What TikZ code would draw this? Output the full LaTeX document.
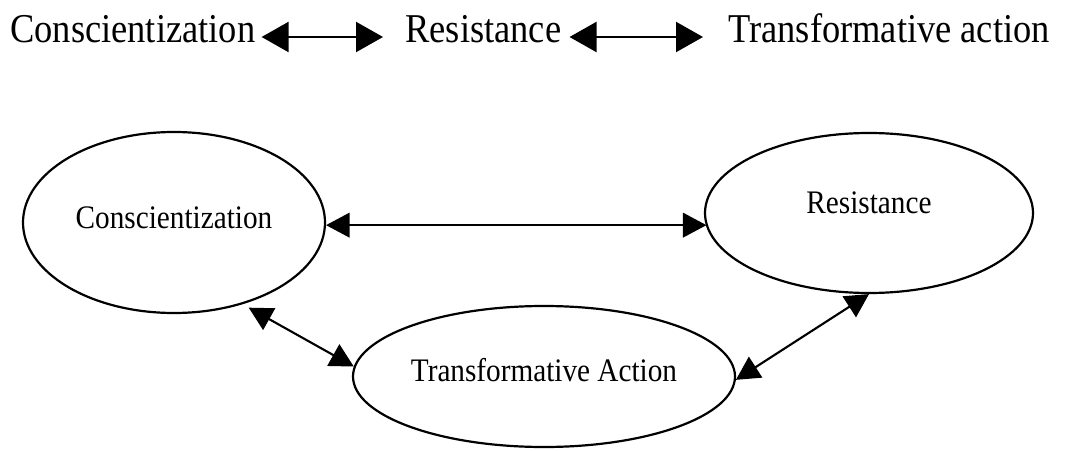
\documentclass[tikz,border=0pt]{standalone}
\usepackage{fontspec}
\setmainfont[FakeStretch=0.89]{Liberation Serif}
\usetikzlibrary{arrows.meta,shapes.geometric}

\begin{document}
\begin{tikzpicture}[
    toptxt/.style={inner sep=0pt,font=\fontsize{23.3}{28}\selectfont},
    bubble/.style={draw,ellipse,line width=1.25pt,inner sep=0pt,font=\fontsize{18.7}{22}\selectfont},
    toparrow/.style={line width=1.3pt,{Triangle[length=0.54cm,width=0.6cm]}-{Triangle[length=0.54cm,width=0.6cm]}},
    linkarrow/.style={line width=1.2pt,{Triangle[length=0.47cm,width=0.49cm]}-{Triangle[length=0.47cm,width=0.49cm]}}]
    \useasboundingbox (0,0) rectangle (21.56,9);
    % the row of words on top
    \node[toptxt,anchor=base west] (topC) at (0.2,8.14) {Conscientization};
    \node[toptxt,anchor=base west] (topR) at (8.1,8.14) {Resistance};
    \node[toptxt,anchor=base west] (topT) at (14.56,8.14) {Transformative action};
    \draw[toparrow] ([shift={(0.12,0.12)}]topC.base east) -- ([shift={(-0.44,0.12)}]topR.base west);
    \draw[toparrow] ([shift={(0.16,0.12)}]topR.base east) -- ([shift={(-0.5,0.12)}]topT.base west);
    % the three ovals
    \node[bubble,minimum width=6.04cm,minimum height=3.62cm,text depth=0.2cm] (consc) at (3.48,4.55) {Conscientization};
    \node[bubble,minimum width=6.56cm,minimum height=3.2cm,text depth=0.4cm] (resist) at (17.38,4.74) {Resistance};
    \node[bubble,minimum width=7.64cm,minimum height=2.82cm,text depth=0.26cm] (trans) at (10.88,1.47) {Transformative Action};
    \draw[linkarrow] (consc.-1.7) -- (resist.185 |- consc.-1.7);
    \draw[linkarrow,shorten >=0.14cm] (trans.177) -- (consc.-50);
    \draw[linkarrow] (trans.-1) -- (resist.south);
  \end{tikzpicture}
\end{document}
